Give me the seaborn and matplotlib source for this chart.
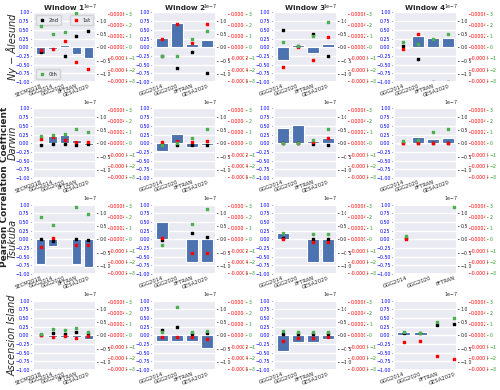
import numpy as np
import matplotlib
matplotlib.use("Agg")
import matplotlib.pyplot as plt
import seaborn as sns
from matplotlib.ticker import FormatStrFormatter

stations = ["Ny − Ålesund", "Darwin", "Tsukuba", "Ascension Island"]
windows = ["Window 1", "Window 2", "Window 3", "Window 4"]
cats_w1 = ["SECM2018", "GGG2014", "GGG2020", "PFTRAN", "GESA2020"]
cats_w234 = ["GGG2014", "GGG2020", "PFTRAN", "GESA2020"]
nan = np.nan

# Pearson correlation coefficient (bars), one list per window
pcc_ny = [[-0.2, -0.06, 0.07, -0.2, -0.32], [0.28, 0.7, 0.1, 0.22],
          [-0.38, 0.07, -0.17, 0.1], [-0.02, 0.33, 0.27, 0.27]]
pcc_darwin = [[0.04, 0.22, 0.23, 0.09, -0.05], [-0.22, 0.27, -0.1, -0.06],
              [0.45, 0.54, 0.07, 0.16], [-0.02, 0.17, 0.13, 0.14]]
pcc_tsukuba = [[-0.72, -0.2, nan, -0.7, -0.8], [0.5, nan, -0.64, -0.64],
               [0.17, nan, -0.65, -0.65], [0.02, nan, nan, nan]]
pcc_ascension = [[0.01, -0.04, -0.05, -0.04, -0.1], [-0.17, -0.15, -0.17, -0.37],
                 [-0.45, -0.2, -0.2, -0.1], [0.09, 0.1, 0.01, nan]]

# 2nd order coefficient (black, x1e-7)
c2_ny = [[-0.17, nan, -0.32, 0.43, 0.62], [-0.34, -0.78, -0.17, -0.96],
         [0.65, 0.05, 0.51, -0.34], [0.04, -0.43, -1.29, -1.29]]
c2_darwin = [[-0.08, -0.04, -0.04, -0.07, -0.04], [-0.01, -0.05, -0.07, -0.05],
             [0.0, 0.0, -0.04, -0.05], [0.01, 0.0, 0.0, 0.01]]
c2_tsukuba = [[0.03, -0.05, nan, 0.0, -0.03], [-0.03, nan, 0.22, 0.1],
              [0.05, nan, 0.03, 0.03], [0.05, nan, nan, nan]]
c2_ascension = [[0.03, 0.07, 0.05, 0.12, 0.05], [0.2, 0.3, 0.05, 0.1],
                [0.05, 0.05, 0.05, 0.05], [0.07, 0.07, 0.4, 0.43]]

# 1st order coefficient (red)
c1_ny = [[-0.000056, -0.000028, 0.000118, -0.000254, -0.00039],
         [0.00015, 0.00042, 0.000073, 0.00042],
         [-0.00035, 0.0, -0.00022, 0.00018],
         [-0.00003, 0.00024, nan, nan]]
c1_darwin = [[0.000074, 0.000105, 0.000062, 0.000031, 0.000031],
             [0.000019, 0.000043, 0.000031, 0.000043],
             [0.000006, 0.000012, 0.000025, 0.000093],
             [0.0, 0.0, 0.000006, 0.000012]]
c1_tsukuba = [[-0.00014, 0.000025, nan, -0.000105, -0.0001],
              [0.000031, nan, -0.00025, -0.00024],
              [0.00001, nan, -0.00005, -0.00005],
              [0.0, nan, nan, nan]]
c1_ascension = [[0.0, -0.000025, -0.000019, -0.000043, -0.000012],
                [-0.00003, -0.00003, -0.00003, -0.00006],
                [-0.0001, -0.00004, -0.00004, -0.00003],
                [-0.000124, -0.000105, -0.00037, -0.00042]]

# 0th order coefficient (green)
c0_ny = [[1.86, 1.15, 1.36, 3.04, nan], [-0.81, -0.74, 0.71, 1.49],
         [0.47, 0.12, 1.02, 2.23], [0.47, 0.28, 0.78, 1.21]]
c0_darwin = [[0.62, 0.74, 0.84, 1.24, 1.05], [-0.19, 0.0, 0.5, 1.27],
             [0.0, 0.0, 0.25, 1.24], [0.19, 0.31, 0.99, 1.24]]
c0_tsukuba = [[1.95, 1.24, nan, 2.88, 2.26], [-0.5, nan, 1.36, 2.67],
              [0.6, nan, 0.5, 0.5], [0.3, nan, 2.9, nan]]
c0_ascension = [[0.16, 0.53, 0.5, 0.68, 0.31], [0.3, 2.5, 0.3, 0.4],
                [0.4, 0.3, 0.3, 0.3], [0.31, 0.25, 1.21, 1.55]]

pcc = [pcc_ny, pcc_darwin, pcc_tsukuba, pcc_ascension]
c2 = [c2_ny, c2_darwin, c2_tsukuba, c2_ascension]
c1 = [c1_ny, c1_darwin, c1_tsukuba, c1_ascension]
c0 = [c0_ny, c0_darwin, c0_tsukuba, c0_ascension]

sns.set_theme(style="darkgrid")

fig, axes = plt.subplots(4, 4, figsize=(5, 3.9), dpi=100)
fig.subplots_adjust(left=0.066, right=0.914, top=0.968, bottom=0.051,
                    wspace=0.91, hspace=0.38)

tick_fs = 3.4
for i in range(4):
    for j in range(4):
        ax = axes[i, j]
        cats = cats_w1 if j == 0 else cats_w234
        x = np.arange(len(cats))
        first = (i == 0 and j == 0)

        sns.barplot(x=cats, y=pcc[i][j], ax=ax, color="#4c72b0", saturation=1,
                    errorbar=None, edgecolor="white", linewidth=0.8)
        ax.set_ylim(-1, 1)
        ax.set_yticks(np.arange(-1, 1.01, 0.25))
        ax.tick_params(axis="y", labelsize=tick_fs, colors="blue", left=True,
                       length=1.5, pad=1, width=0.5)
        ax.set_xticks(x)
        ax.set_xticklabels(cats, rotation=20, ha="right", rotation_mode="anchor",
                           fontsize=3.8)
        ax.tick_params(axis="x", pad=1, length=0)

        axb = ax.twinx()
        axb.scatter(x, np.array(c2[i][j]) * 1e-7, color="black", marker="s",
                    s=3, zorder=3, label="2nd")
        axb.set_ylim(-1.3e-7, 1.3e-7)
        axb.set_yticks(np.arange(-2, 3) * 0.5e-7)
        axb.grid(False)
        axb.tick_params(axis="y", labelsize=tick_fs, length=1.5, pad=1, width=0.5)
        axb.yaxis.get_offset_text().set_fontsize(tick_fs)

        axr = ax.twinx()
        axr.spines["right"].set_position(("axes", 1.17))
        axr.scatter(x, c1[i][j], color="red", marker="s", s=3, zorder=3,
                    label="1st")
        axr.set_ylim(-0.00062, 0.00062)
        axr.set_yticks(np.arange(-3, 4) * 0.0002)
        axr.yaxis.set_major_formatter(FormatStrFormatter("%.4f"))
        axr.grid(False)
        axr.tick_params(axis="y", labelsize=tick_fs, colors="red", length=1.5,
                        pad=1, width=0.5)

        axg = ax.twinx()
        axg.spines["right"].set_position(("axes", 1.46))
        axg.scatter(x, c0[i][j], color="#4caf50", marker="s", s=3, zorder=3,
                    label="0th")
        axg.set_ylim(-3.1, 3.1)
        axg.set_yticks(np.arange(-3, 4))
        axg.grid(False)
        axg.tick_params(axis="y", labelsize=tick_fs, colors="#2ca02c", length=1.5,
                        pad=1, width=0.5)

        if first:
            for a, loc in [(axb, "upper left"), (axr, "upper right"), (axg, "lower left")]:
                a.legend(loc=loc, fontsize=3.8, markerscale=1, handletextpad=0.4,
                         borderpad=0.5, handlelength=1.5)

        if i == 0:
            ax.set_title(windows[j], fontsize=5.2, fontweight="bold", y=1.0, pad=2)
        if j == 0:
            ax.set_ylabel(stations[i], fontsize=7, style="italic")
            ax.yaxis.set_label_coords(-0.24, 0.5)
        else:
            ax.set_ylabel("")

fig.text(0.009, 0.52, "Pearson Correlation Coefficient", rotation=90,
         fontsize=6.5, fontweight="bold", va="center", ha="center")

fig.savefig("out.png", dpi=100)
